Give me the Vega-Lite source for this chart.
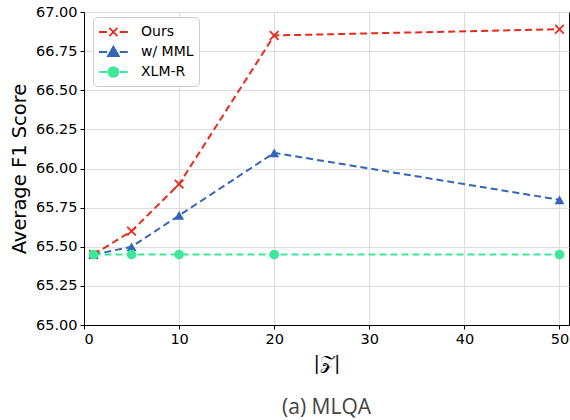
{
  "$schema": "https://vega.github.io/schema/vega-lite/v6.json",
  "autosize": {"type": "none"},
  "width": 485,
  "height": 313,
  "padding": {"left": 84, "top": 12, "right": 1, "bottom": 95},
  "background": "white",
  "title": {"text": "(a) MLQA", "orient": "bottom", "anchor": "middle", "font": "Open Sans", "fontSize": 21, "fontWeight": "normal", "color": "#444444", "offset": 24},
  "config": {
    "font": "DejaVu Sans",
    "view": {"stroke": "black", "strokeWidth": 1},
    "axis": {
      "domainColor": "black", "tickColor": "black", "tickSize": 4,
      "labelFont": "DejaVu Sans", "labelFontSize": 14.5, "labelColor": "black",
      "titleFont": "DejaVu Sans", "titleFontWeight": "normal", "titleColor": "black",
      "gridColor": "#dddddd", "gridWidth": 1
    }
  },
  "data": {"values": [
    {"k": 1, "score": 65.45, "series": "Ours"},
    {"k": 5, "score": 65.6, "series": "Ours"},
    {"k": 10, "score": 65.9, "series": "Ours"},
    {"k": 20, "score": 66.85, "series": "Ours"},
    {"k": 50, "score": 66.89, "series": "Ours"},
    {"k": 1, "score": 65.45, "series": "w/ MML"},
    {"k": 5, "score": 65.5, "series": "w/ MML"},
    {"k": 10, "score": 65.7, "series": "w/ MML"},
    {"k": 20, "score": 66.1, "series": "w/ MML"},
    {"k": 50, "score": 65.8, "series": "w/ MML"},
    {"k": 1, "score": 65.45, "series": "XLM-R"},
    {"k": 5, "score": 65.45, "series": "XLM-R"},
    {"k": 10, "score": 65.45, "series": "XLM-R"},
    {"k": 20, "score": 65.45, "series": "XLM-R"},
    {"k": 50, "score": 65.45, "series": "XLM-R"}
  ]},
  "encoding": {
    "x": {"field": "k", "type": "quantitative", "scale": {"domain": [0, 51], "nice": false, "zero": false},
      "axis": {"values": [0, 10, 20, 30, 40, 50], "title": "|𝒵|", "titleFont": "DejaVu Serif", "titleFontSize": 19, "titlePadding": 8, "labelPadding": 3}},
    "y": {"field": "score", "type": "quantitative", "scale": {"domain": [65, 67], "nice": false, "zero": false},
      "axis": {"values": [65, 65.25, 65.5, 65.75, 66, 66.25, 66.5, 66.75, 67], "format": ".2f", "title": "Average F1 Score", "titleFontSize": 19.5, "titlePadding": 6, "labelPadding": 3}},
    "color": {"field": "series", "type": "nominal",
      "scale": {"domain": ["Ours", "w/ MML", "XLM-R"], "range": ["#e8291c", "#3466b8", "#3ee89a"]}}
  },
  "layer": [
    {
      "mark": {"type": "line", "strokeDash": [7, 4], "strokeWidth": 2},
      "encoding": {
        "detail": {"field": "series"},
        "color": {"field": "series", "type": "nominal",
          "scale": {"domain": ["Ours", "w/ MML", "XLM-R"], "range": ["#e8291c", "#3466b8", "#3ee89a"]},
          "legend": {
            "title": null, "orient": "none", "legendX": 9, "legendY": 5, "padding": 5,
            "strokeColor": "#cccccc", "fillColor": "white", "cornerRadius": 4,
            "labelFont": "DejaVu Sans", "labelFontSize": 14, "labelColor": "black",
            "symbolSize": 324, "symbolStrokeWidth": 1.8, "rowPadding": 2, "labelOffset": 23,
            "symbolType": "M-1,0H0M1.2,0H2.2",
            "encode": {"symbols": {"update": {
              "shape": {"signal": "datum.value === 'Ours' ? 'M-1,0H-0.1M1.3,0H2.2M0.15,-0.45L1.05,0.45M0.15,0.45L1.05,-0.45' : datum.value === 'w/ MML' ? 'M-1,0H-0.1M1.3,0H2.2M0.6,-0.6L1.2,0.45L0,0.45Z' : 'M-1,0H-0.1M1.3,0H2.2M1.15,0A0.55,0.55 0 1 1 0.05,0A0.55,0.55 0 1 1 1.15,0Z'"},
              "fill": {"signal": "datum.value === 'Ours' ? 'transparent' : scale('color', datum.value)"},
              "stroke": {"signal": "scale('color', datum.value)"},
              "strokeDash": {"value": []},
              "opacity": {"value": 1}
            }}}
          }
        }
      }
    },
    {
      "transform": [{"filter": "datum.series === 'Ours'"}],
      "mark": {"type": "point", "shape": "M-1,-1L1,1M-1,1L1,-1", "filled": false, "size": 75, "strokeWidth": 1.8, "opacity": 1},
      "encoding": {"color": {"field": "series", "type": "nominal", "legend": null}}
    },
    {
      "transform": [{"filter": "datum.series === 'w/ MML'"}],
      "mark": {"type": "point", "shape": "triangle-up", "filled": true, "size": 100, "opacity": 1},
      "encoding": {"color": {"field": "series", "type": "nominal", "legend": null}}
    },
    {
      "transform": [{"filter": "datum.series === 'XLM-R'"}],
      "mark": {"type": "point", "shape": "circle", "filled": true, "size": 95, "opacity": 1},
      "encoding": {"color": {"field": "series", "type": "nominal", "legend": null}}
    }
  ]
}
